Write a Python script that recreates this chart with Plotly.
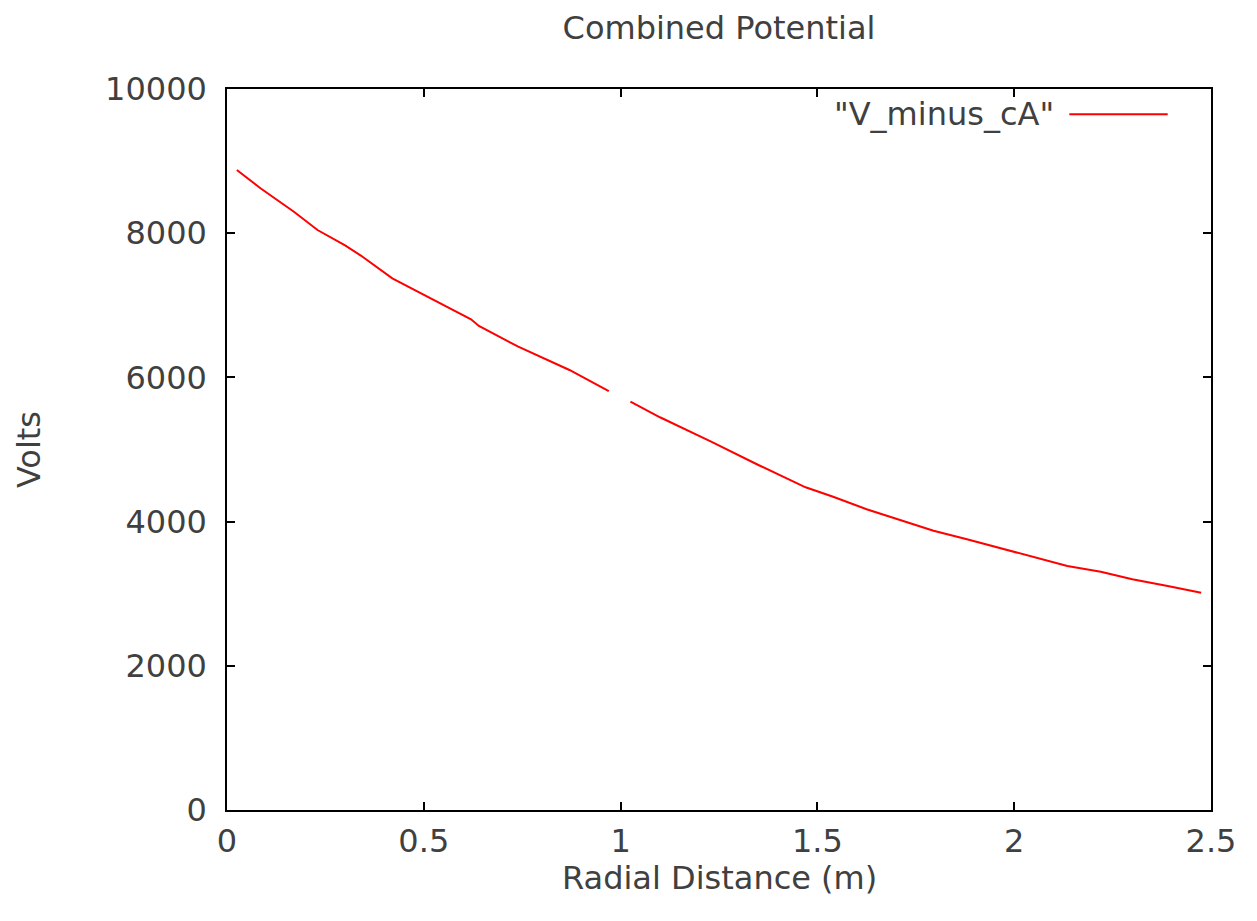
import plotly.graph_objects as go

# Radial distance (m) and combined potential (V); None marks the gap in the curve
radial_distance = [0.025, 0.085, 0.17, 0.23, 0.3, 0.34, 0.42, 0.5, 0.62, 0.64, 0.74, 0.87, 0.97,
                   None,
                   1.025, 1.1, 1.23, 1.35, 1.47, 1.54, 1.625, 1.71, 1.795, 1.88, 1.985,
                   2.05, 2.135, 2.22, 2.3, 2.39, 2.475]
volts = [8877, 8623, 8298, 8044, 7830, 7690, 7374, 7143, 6806, 6713, 6426, 6103, 5811,
         None,
         5663, 5447, 5108, 4785, 4476, 4345, 4171, 4022, 3874, 3755, 3606,
         3505, 3384, 3305, 3200, 3107, 3014]

series_name = '"V_minus_cA"'
x_title = "Radial Distance (m)"
x_ticks = [0, 0.5, 1, 1.5, 2, 2.5]
x_tick_labels = ["0", "0.5", "1", "1.5", "2", "2.5"]
y_ticks = [0, 2000, 4000, 6000, 8000, 10000]
y_tick_labels = ["0", "2000", "4000", "6000", "8000", "10000"]

FONT = "DejaVu Sans"
TXT = "#404040"
FS = 32

fig = go.Figure()
fig.add_trace(go.Scatter(
    x=radial_distance, y=volts, mode="lines", name=series_name,
    line=dict(color="#ff0000", width=2), connectgaps=False, showlegend=False,
))

axis_common = dict(
    showline=True, linecolor="black", linewidth=1.5, mirror="allticks",
    ticks="inside", ticklen=8, tickwidth=1.5, tickcolor="black",
    showgrid=False, zeroline=False,
    tickfont=dict(family=FONT, size=FS, color=TXT),
)

fig.update_layout(
    width=1257, height=921,
    margin=dict(l=227, r=46, t=89, b=111),
    paper_bgcolor="white", plot_bgcolor="white",
    font=dict(family=FONT, size=FS, color=TXT),
    title=dict(text="Combined Potential", x=0.5, xref="paper", xanchor="center",
               y=0.97, yanchor="middle",
               font=dict(family=FONT, size=FS, color=TXT)),
    xaxis=dict(range=[0, 2.5], tickvals=x_ticks, ticktext=x_tick_labels,
               ticklabelstandoff=2, **axis_common),
    yaxis=dict(range=[0, 10000], tickvals=y_ticks, ticktext=y_tick_labels,
               ticklabelstandoff=12,
               title=dict(text="Volts", standoff=55,
                          font=dict(family=FONT, size=FS, color=TXT)),
               **axis_common),
    showlegend=False,
)

# x-axis title placed like gnuplot's xlabel
fig.add_annotation(
    xref="paper", yref="paper", x=0.5, y=-0.095, xanchor="center", yanchor="middle",
    text=x_title, showarrow=False, font=dict(family=FONT, size=FS, color=TXT),
)

# gnuplot-style key: label text followed by the line sample on its right
fig.add_annotation(
    xref="paper", yref="paper", x=0.842, y=0.965, xanchor="right", yanchor="middle",
    text=series_name, showarrow=False, font=dict(family=FONT, size=FS, color=TXT),
)
fig.add_shape(
    type="line", xref="paper", yref="paper", x0=0.856, x1=0.956, y0=0.965, y1=0.965,
    line=dict(color="#ff0000", width=2),
)

fig.write_html("out.html")
